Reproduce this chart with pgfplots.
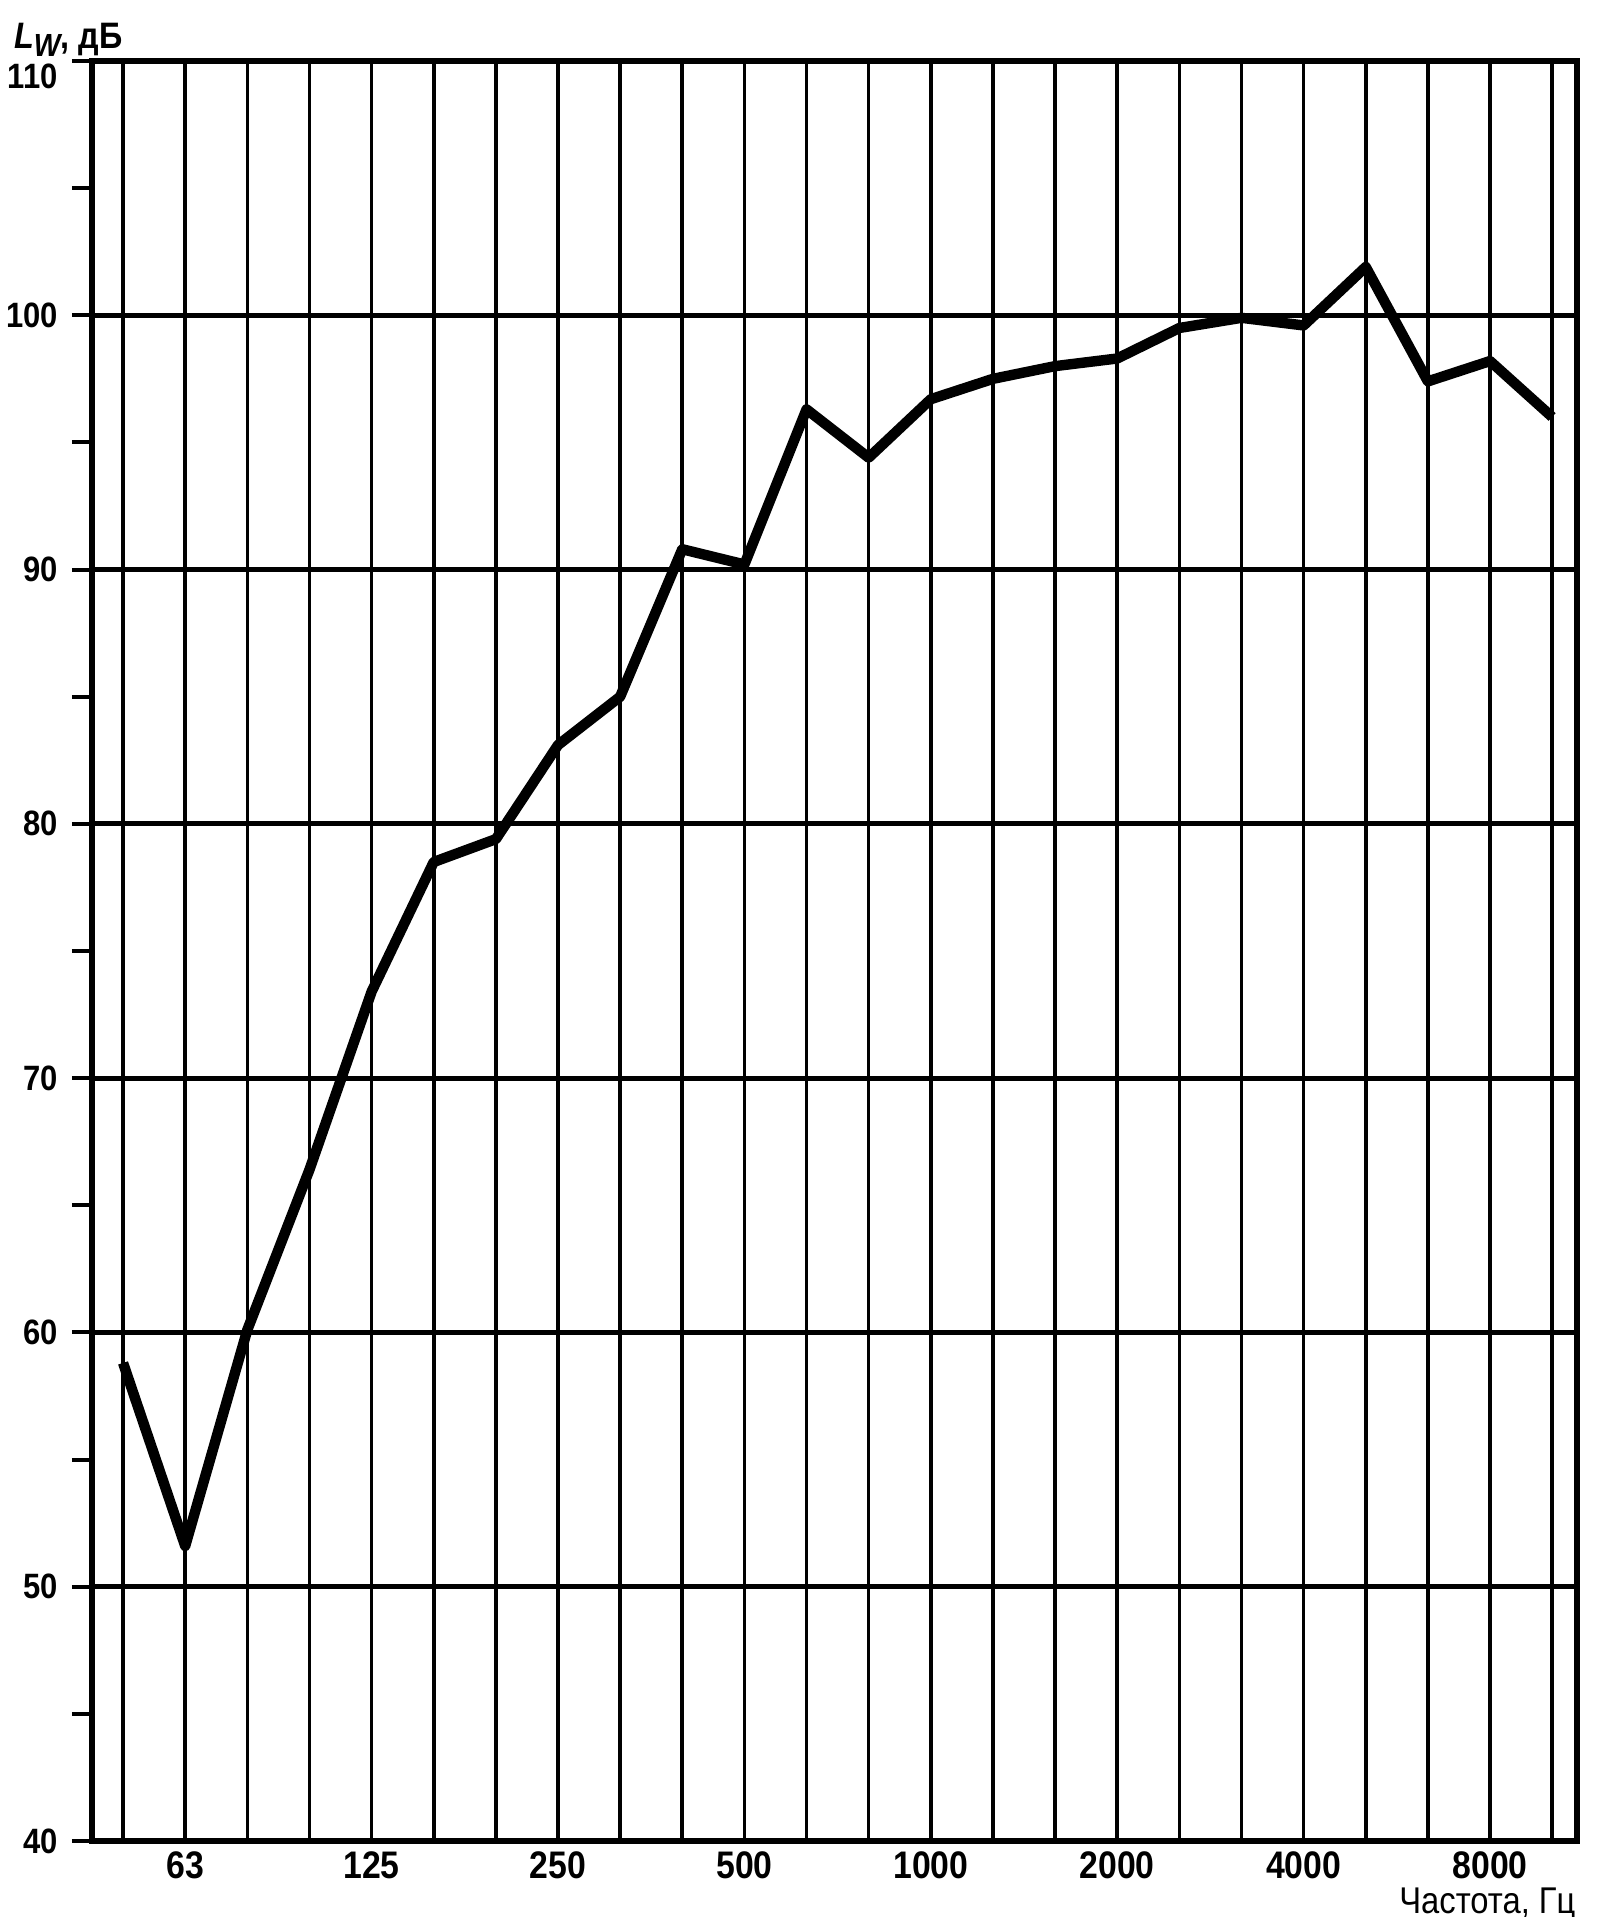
\documentclass[border=0pt]{standalone}
\usepackage{fontspec}
\setmainfont{Liberation Sans}[FakeStretch=0.88]
\usepackage{pgfplots}
\pgfplotsset{compat=1.18}
\begin{document}
\begin{tikzpicture}
\begin{axis}[
  at={(0,0)}, anchor=south west,
  width=371.25pt, height=445pt, scale only axis,
  xmin=-0.5, xmax=23.4, ymin=40, ymax=110,
  xtick={0,...,23},
  xticklabels={{},63,{},{},125,{},{},250,{},{},500,{},{},1000,{},{},2000,{},{},4000,{},{},8000,{}},
  ytick={40,50,...,110},
  yticklabels={40,50,60,70,80,90,100,\raisebox{-6.9pt}[0pt][0pt]{110}},
  minor ytick={45,55,...,105},
  xmajorgrids, ymajorgrids,
  major x grid style={black, line width=0.9pt},
  major y grid style={black, line width=1.2pt},
  axis line style={black, line width=1.3pt},
  tick align=outside,
  ytick pos=left, xtick pos=bottom,
  xtick style={draw=none},
  ytick style={black, line width=1pt},
  major tick length=5pt, minor tick length=5pt,
  tick label style={font=\bfseries\fontsize{8.8}{10}\selectfont},
  xticklabel style={font=\bfseries\fontsize{9.6}{10}\selectfont, inner sep=0.5pt, yshift=3pt},
  every axis y label/.style={at={(rel axis cs:0,1)}, anchor=south west, xshift=-23pt, yshift=-2.5pt},
  every axis x label/.style={at={(rel axis cs:1,0)}, anchor=north east, inner sep=0pt, xshift=-0.2pt, yshift=-11.6pt},
  ylabel={\bfseries\fontsize{9.2}{11}\selectfont\itshape L\raisebox{-2pt}{\fontsize{8}{9}\selectfont W}\upshape\fontsize{9.2}{11}\selectfont, дБ},
  xlabel={\fontsize{9.3}{10}\selectfont Частота, Гц},
]
\addplot[black, line width=2.6pt, line join=round, mark=none] coordinates {
  (0, 58.8) (1, 51.6) (2, 60.1) (3, 66.4) (4, 73.4) (5, 78.5)
  (6, 79.4) (7, 83.1) (8, 85.0) (9, 90.8) (10, 90.2) (11, 96.3)
  (12, 94.4) (13, 96.7) (14, 97.5) (15, 98.0) (16, 98.3) (17, 99.5)
  (18, 99.9) (19, 99.6) (20, 101.9) (21, 97.4) (22, 98.2) (23, 96.0)
};
\end{axis}
\pgfresetboundingbox
\path[use as bounding box] (-23pt,-19pt) rectangle (377pt,460.25pt);
\end{tikzpicture}
\end{document}
